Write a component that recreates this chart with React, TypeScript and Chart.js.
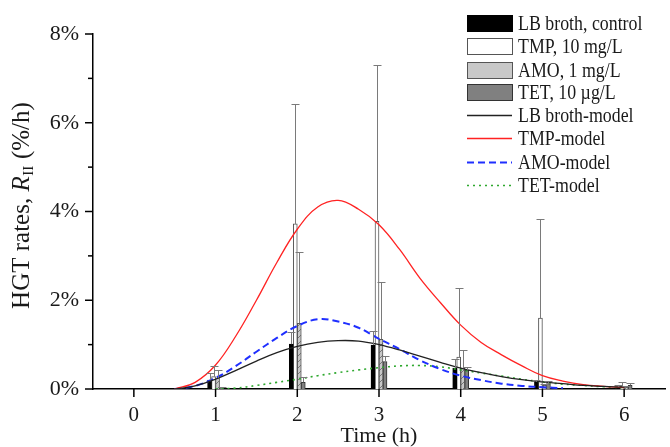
import React, { useEffect, useRef } from 'react';
import { Chart, registerables } from 'chart.js';
Chart.register(...registerables);

// ---- data ----
const times = [1, 2, 3, 4, 5, 6];
const lbMean = [0.2, 1.01, 0.99, 0.47, 0.16, 0.05];
const lbErr = [0.36, 1.29, 1.3, 0.68, 0.2, 0.08];
const tmpMean = [0.28, 3.72, 3.78, 0.72, 1.6, 0.06];
const tmpErr = [0.52, 6.42, 7.3, 2.27, 3.83, 0.16];
const amoMean = [0.25, 1.48, 1.12, 0.47, 0.08, 0.04];
const amoErr = [0.42, 3.08, 2.41, 0.88, 0.12, 0.06];
const tetMean = [0.03, 0.15, 0.62, 0.42, 0.12, 0.08];
const tetErr = [0.05, 0.27, 0.75, 0.5, 0.18, 0.14];

const modelTimes = [0.5, 0.75, 1, 1.25, 1.5, 1.75, 2, 2.25, 2.5, 2.75, 3, 3.25, 3.5, 3.75, 4, 4.25, 4.5, 4.75, 5, 5.25, 5.5, 5.75, 6];
const lbModel = [0, 0.07, 0.22, 0.42, 0.63, 0.82, 0.96, 1.05, 1.09, 1.08, 1.0, 0.88, 0.74, 0.6, 0.47, 0.37, 0.28, 0.21, 0.16, 0.12, 0.08, 0.06, 0.04];
const tmpModel = [0, 0.15, 0.54, 1.2, 2.0, 2.85, 3.6, 4.1, 4.25, 4.05, 3.7, 3.15, 2.5, 1.95, 1.44, 1.05, 0.77, 0.52, 0.3, 0.18, 0.1, 0.06, 0.03];
const amoModel = [0, 0.07, 0.25, 0.52, 0.84, 1.15, 1.42, 1.57, 1.52, 1.38, 1.13, 0.9, 0.65, 0.45, 0.3, 0.2, 0.12, 0.07, 0.04, 0.02, null, null, null];
const tetModel = [null, null, 0, 0.02, 0.08, 0.15, 0.22, 0.3, 0.37, 0.43, 0.48, 0.52, 0.53, 0.5, 0.43, 0.36, 0.29, 0.22, 0.16, 0.11, 0.08, 0.05, 0.03];

const xTickValues = [0, 1, 2, 3, 4, 5, 6];
const yTickValues = [0, 1, 2, 3, 4, 5, 6, 7, 8];
const barLabels = ['LB broth, control', 'TMP, 10 mg/L', 'AMO, 1 mg/L', 'TET, 10 µg/L'];
const lineLabels = ['LB broth-model', 'TMP-model', 'AMO-model', 'TET-model'];

const FONT = '"Liberation Serif", "Times New Roman", serif';
const TXT = '#1a1a1a';

function pts(xs: number[], ys: (number | null)[]) {
  return xs.map((x, i) => ({ x, y: ys[i] }));
}

function hatchPattern(): CanvasPattern | string {
  const c = document.createElement('canvas');
  c.width = 6; c.height = 6;
  const g = c.getContext('2d');
  if (!g) return '#c8c8c8';
  g.fillStyle = '#c8c8c8';
  g.fillRect(0, 0, 6, 6);
  g.strokeStyle = '#777';
  g.lineWidth = 1;
  g.beginPath();
  g.moveTo(0, 6); g.lineTo(6, 0);
  g.stroke();
  const p = g.createPattern(c, 'repeat');
  return p || '#c8c8c8';
}

export default function App() {
  const ref = useRef<HTMLCanvasElement | null>(null);
  useEffect(() => {
    document.body.style.margin = '0';
    const canvas = ref.current;
    if (!canvas) return;
    const errSets = [lbErr, tmpErr, amoErr, tetErr];

    const barStyles = [
      { bg: '#000000', border: '#000000' },
      { bg: '#ffffff', border: '#555555' },
      { bg: hatchPattern(), border: '#555555' },
      { bg: '#808080', border: '#333333' },
    ];
    const lineStyles = [
      { color: '#222222', dash: [] as number[], width: 1.3 },
      { color: '#ff2222', dash: [] as number[], width: 1.3 },
      { color: '#1f2fff', dash: [7, 4], width: 2 },
      { color: '#2ea82e', dash: [2, 4], width: 1.6 },
    ];

    const means = [lbMean, tmpMean, amoMean, tetMean];
    const models = [lbModel, tmpModel, amoModel, tetModel];

    const datasets: any[] = [];
    means.forEach((m, i) => {
      datasets.push({
        type: 'bar',
        label: barLabels[i],
        data: pts(times, m),
        backgroundColor: barStyles[i].bg,
        borderColor: barStyles[i].border,
        borderWidth: 1,
        barThickness: 4,
        order: 2,
      });
    });
    models.forEach((m, i) => {
      datasets.push({
        type: 'line',
        label: lineLabels[i],
        data: pts(modelTimes, m),
        borderColor: lineStyles[i].color,
        borderDash: lineStyles[i].dash,
        borderWidth: lineStyles[i].width,
        pointRadius: 0,
        fill: false,
        tension: 0.4,
        spanGaps: false,
        order: 1,
      });
    });

    const decor = {
      id: 'decor',
      afterDatasetsDraw(chart: any) {
        const ctx = chart.ctx;
        const y = chart.scales.y;
        ctx.save();
        ctx.strokeStyle = '#7a7a7a';
        ctx.lineWidth = 1;
        errSets.forEach((errs, di) => {
          const meta = chart.getDatasetMeta(di);
          meta.data.forEach((el: any, i: number) => {
            const top = Math.round(y.getPixelForValue(errs[i])) + 0.5;
            const x = Math.round(el.x) + 0.5;
            ctx.beginPath();
            ctx.moveTo(x, el.y);
            ctx.lineTo(x, top);
            ctx.moveTo(x - 4, top);
            ctx.lineTo(x + 4, top);
            ctx.stroke();
          });
        });
        ctx.restore();
      },
      afterDraw(chart: any) {
        const ctx = chart.ctx;
        const ca = chart.chartArea;
        const xs = chart.scales.x;
        const ys = chart.scales.y;
        ctx.save();
        // tick marks
        ctx.strokeStyle = '#000';
        ctx.lineWidth = 1.5;
        yTickValues.forEach((v) => {
          const py = ys.getPixelForValue(v);
          const len = v % 2 === 0 ? 8 : 5;
          ctx.beginPath();
          ctx.moveTo(ca.left - len, py);
          ctx.lineTo(ca.left, py);
          ctx.stroke();
        });
        xTickValues.forEach((v) => {
          const px = xs.getPixelForValue(v);
          ctx.beginPath();
          ctx.moveTo(px, ca.bottom);
          ctx.lineTo(px, ca.bottom + 8);
          ctx.stroke();
        });
        // x title
        ctx.fillStyle = TXT;
        ctx.font = `22px ${FONT}`;
        ctx.textAlign = 'center';
        ctx.textBaseline = 'middle';
        ctx.fillText('Time (h)', (ca.left + ca.right) / 2, 436);
        // y title
        ctx.save();
        ctx.translate(22, (ca.top + ca.bottom) / 2 - 6);
        ctx.rotate(-Math.PI / 2);
        ctx.textBaseline = 'middle';
        ctx.textAlign = 'left';
        const fs = 25;
        const p1 = 'HGT rates, ';
        const p2 = 'R';
        const p3 = 'II';
        const p4 = ' (%/h)';
        ctx.font = `${fs}px ${FONT}`;
        const w1 = ctx.measureText(p1).width;
        const w4 = ctx.measureText(p4).width;
        ctx.font = `italic ${fs}px ${FONT}`;
        const w2 = ctx.measureText(p2).width;
        ctx.font = `15px ${FONT}`;
        const w3 = ctx.measureText(p3).width + 1;
        let x0 = -(w1 + w2 + w3 + w4) / 2;
        ctx.font = `${fs}px ${FONT}`;
        ctx.fillText(p1, x0, 0); x0 += w1;
        ctx.font = `italic ${fs}px ${FONT}`;
        ctx.fillText(p2, x0, 0); x0 += w2;
        ctx.font = `15px ${FONT}`;
        ctx.fillText(p3, x0 + 0.5, 7); x0 += w3;
        ctx.font = `${fs}px ${FONT}`;
        ctx.fillText(p4, x0, 0);
        ctx.restore();
        // legend
        const lx = 467;
        const sw = 45;
        const tx = 518;
        const rowY = [23, 46, 70, 92, 115, 138, 162, 185];
        barLabels.forEach((lab, i) => {
          const cy = rowY[i];
          const st = barStyles[i];
          ctx.fillStyle = i === 2 ? '#c8c8c8' : (st.bg as string);
          ctx.fillRect(lx, cy - 8, sw, 16);
          ctx.strokeStyle = st.border;
          ctx.lineWidth = 1;
          ctx.strokeRect(lx + 0.5, cy - 8 + 0.5, sw, 16);
        });
        lineLabels.forEach((lab, i) => {
          const cy = rowY[i + 4];
          const st = lineStyles[i];
          ctx.strokeStyle = st.color;
          ctx.lineWidth = st.width;
          ctx.setLineDash(st.dash);
          ctx.beginPath();
          ctx.moveTo(lx, cy + 0.5);
          ctx.lineTo(lx + sw, cy + 0.5);
          ctx.stroke();
          ctx.setLineDash([]);
        });
        const allLabels = [...barLabels, ...lineLabels];
        ctx.fillStyle = TXT;
        ctx.font = `21px ${FONT}`;
        ctx.textAlign = 'left';
        ctx.textBaseline = 'middle';
        allLabels.forEach((lab, i) => {
          ctx.save();
          ctx.translate(tx, rowY[i] + 1);
          ctx.scale(0.85, 1);
          ctx.fillText(lab, 0, 0);
          ctx.restore();
        });
        ctx.restore();
      },
    };

    const chart = new Chart(canvas, {
      type: 'bar',
      data: { datasets },
      options: {
        animation: false,
        responsive: false,
        devicePixelRatio: 1,
        layout: { padding: { left: 0, top: 34, right: 5, bottom: 0 } },
        plugins: { legend: { display: false }, tooltip: { enabled: false } },
        scales: {
          x: {
            type: 'linear',
            min: -0.5,
            max: 6.5,
            offset: false,
            grid: { display: false, offset: false },
            border: { display: true, color: '#000', width: 1.5 },
            afterBuildTicks: (s: any) => { s.ticks = xTickValues.map((v) => ({ value: v })); },
            afterFit: (s: any) => { s.height = 58; },
            ticks: {
              padding: 6,
              color: TXT,
              font: { family: FONT, size: 21 },
              callback: (v: any) => String(v),
            },
          },
          y: {
            type: 'linear',
            min: 0,
            max: 8,
            grid: { display: false },
            border: { display: true, color: '#000', width: 1.5 },
            afterBuildTicks: (s: any) => { s.ticks = yTickValues.map((v) => ({ value: v })); },
            afterFit: (s: any) => { s.width = 93; },
            ticks: {
              padding: 6,
              color: TXT,
              font: { family: FONT, size: 22 },
              callback: (v: any) => (Number(v) % 2 === 0 ? `${v}%` : ''),
            },
          },
        },
      } as any,
      plugins: [decor],
    });
    return () => chart.destroy();
  }, []);
  return (
    <canvas ref={ref} width={670} height={447} style={{ display: 'block', width: 670, height: 447 }} />
  );
}
